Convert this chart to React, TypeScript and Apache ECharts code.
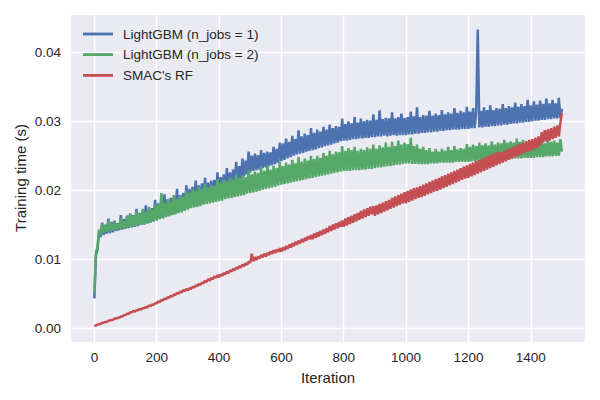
import React, { useEffect, useRef } from "react";
import * as echarts from "echarts";

// Iteration of each sample (every 5th iteration)
const iterations = [
  0, 5, 10, 15, 20, 25, 30, 35, 40, 45, 50, 55, 60, 65, 70, 75, 80, 85, 90, 95,
  100, 105, 110, 115, 120, 125, 130, 135, 140, 145, 150, 155, 160, 165, 170, 175, 180, 185, 190, 195,
  200, 205, 210, 215, 220, 225, 230, 235, 240, 245, 250, 255, 260, 265, 270, 275, 280, 285, 290, 295,
  300, 305, 310, 315, 320, 325, 330, 335, 340, 345, 350, 355, 360, 365, 370, 375, 380, 385, 390, 395,
  400, 405, 410, 415, 420, 425, 430, 435, 440, 445, 450, 455, 460, 465, 470, 475, 480, 485, 490, 495,
  500, 505, 510, 515, 520, 525, 530, 535, 540, 545, 550, 555, 560, 565, 570, 575, 580, 585, 590, 595,
  600, 605, 610, 615, 620, 625, 630, 635, 640, 645, 650, 655, 660, 665, 670, 675, 680, 685, 690, 695,
  700, 705, 710, 715, 720, 725, 730, 735, 740, 745, 750, 755, 760, 765, 770, 775, 780, 785, 790, 795,
  800, 805, 810, 815, 820, 825, 830, 835, 840, 845, 850, 855, 860, 865, 870, 875, 880, 885, 890, 895,
  900, 905, 910, 915, 920, 925, 930, 935, 940, 945, 950, 955, 960, 965, 970, 975, 980, 985, 990, 995,
  1000, 1005, 1010, 1015, 1020, 1025, 1030, 1035, 1040, 1045, 1050, 1055, 1060, 1065, 1070, 1075, 1080, 1085, 1090, 1095,
  1100, 1105, 1110, 1115, 1120, 1125, 1130, 1135, 1140, 1145, 1150, 1155, 1160, 1165, 1170, 1175, 1180, 1185, 1190, 1195,
  1200, 1205, 1210, 1215, 1220, 1225, 1230, 1235, 1240, 1245, 1250, 1255, 1260, 1265, 1270, 1275, 1280, 1285, 1290, 1295,
  1300, 1305, 1310, 1315, 1320, 1325, 1330, 1335, 1340, 1345, 1350, 1355, 1360, 1365, 1370, 1375, 1380, 1385, 1390, 1395,
  1400, 1405, 1410, 1415, 1420, 1425, 1430, 1435, 1440, 1445, 1450, 1455, 1460, 1465, 1470, 1475, 1480, 1485, 1490, 1495,
  1500,
];

// Training times in milliseconds
const lightgbm1Ms = [
  4.3, 10.6, 11.4, 14.0, 13.2, 15.3, 13.5, 15.0, 13.7, 15.9, 13.8, 15.4, 13.9, 15.6, 14.1, 15.2, 14.2, 16.4, 14.3, 15.8,
  14.4, 16.3, 14.5, 16.6, 14.6, 16.4, 14.7, 17.3, 14.8, 16.7, 15.0, 16.9, 15.0, 17.8, 15.2, 17.1, 15.3, 17.4, 15.5, 18.6,
  15.7, 18.1, 15.9, 18.4, 16.0, 19.4, 16.2, 18.6, 16.3, 18.9, 16.5, 19.0, 16.6, 20.2, 16.8, 19.3, 16.9, 19.6, 17.1, 20.7,
  17.3, 20.2, 17.5, 20.5, 17.7, 21.4, 17.8, 20.7, 18.0, 21.0, 18.2, 21.8, 18.3, 21.1, 18.5, 21.4, 18.7, 21.5, 18.9, 22.6,
  19.1, 21.9, 19.4, 22.3, 19.7, 23.2, 20.1, 22.6, 20.4, 23.0, 20.8, 24.1, 21.2, 23.5, 21.6, 24.6, 22.0, 24.3, 22.3, 25.6,
  22.6, 25.0, 22.8, 25.3, 22.9, 25.1, 23.0, 25.8, 23.2, 25.4, 23.3, 25.6, 23.5, 25.5, 23.6, 26.3, 23.8, 26.0, 24.0, 26.9,
  24.2, 26.8, 24.4, 27.5, 24.6, 27.0, 24.8, 27.9, 25.0, 27.4, 25.2, 28.7, 25.3, 27.8, 25.4, 28.2, 25.6, 28.0, 25.7, 29.0,
  25.8, 28.3, 25.9, 28.8, 26.1, 28.5, 26.2, 29.2, 26.4, 28.8, 26.5, 29.5, 26.6, 29.0, 26.8, 29.3, 26.9, 29.2, 27.1, 30.4,
  27.2, 29.6, 27.2, 30.0, 27.3, 29.7, 27.4, 30.6, 27.4, 29.8, 27.5, 30.4, 27.5, 30.0, 27.6, 30.2, 27.6, 30.1, 27.7, 31.0,
  27.7, 30.2, 27.8, 31.6, 27.8, 30.3, 27.9, 30.5, 27.8, 30.4, 27.9, 31.3, 28.0, 30.4, 27.9, 30.6, 28.0, 31.1, 28.0, 30.5,
  28.0, 30.6, 28.1, 31.4, 28.1, 30.7, 28.2, 32.0, 28.2, 30.6, 28.3, 30.9, 28.3, 30.8, 28.4, 31.5, 28.4, 30.8, 28.5, 31.1,
  28.5, 30.9, 28.6, 31.6, 28.6, 31.0, 28.7, 31.3, 28.7, 31.1, 28.8, 31.9, 28.8, 31.2, 28.8, 31.5, 28.9, 31.3, 28.9, 32.1,
  28.9, 31.4, 29.0, 31.9, 29.0, 31.4, 43.3, 29.1, 31.5, 29.1, 32.0, 29.2, 31.6, 29.2, 32.3, 29.3, 31.6, 29.3, 31.9, 29.4,
  31.8, 29.4, 32.5, 29.5, 31.9, 29.5, 32.2, 29.6, 32.0, 29.7, 32.7, 29.7, 32.1, 29.8, 32.5, 29.8, 32.2, 29.9, 33.1, 29.9,
  32.3, 30.0, 32.9, 30.1, 32.4, 30.1, 33.0, 30.2, 32.5, 30.2, 33.3, 30.3, 32.6, 30.3, 33.1, 30.4, 32.6, 30.4, 33.4, 30.5,
  31.8,
];

const lightgbm2Ms = [
  5.0, 11.0, 11.8, 14.3, 13.6, 15.1, 13.8, 14.9, 14.0, 15.6, 14.1, 15.2, 14.2, 15.4, 14.3, 15.1, 14.4, 16.0, 14.5, 15.5,
  14.5, 16.2, 14.6, 16.6, 14.7, 16.3, 14.8, 16.9, 14.9, 16.6, 15.0, 17.3, 15.1, 16.9, 15.2, 17.6, 15.3, 17.2, 15.5, 17.9,
  15.6, 17.9, 15.8, 19.6, 15.9, 18.1, 16.1, 18.7, 16.2, 18.4, 16.4, 19.3, 16.5, 18.7, 16.7, 19.2, 16.8, 19.0, 17.0, 19.9,
  17.2, 19.7, 17.4, 20.2, 17.5, 19.9, 17.6, 20.5, 17.7, 20.2, 17.9, 20.9, 18.0, 20.4, 18.1, 20.7, 18.2, 20.6, 18.3, 21.6,
  18.4, 21.1, 18.5, 21.5, 18.7, 21.3, 18.8, 21.8, 18.9, 21.5, 19.0, 22.3, 19.1, 21.7, 19.2, 22.2, 19.3, 21.9, 19.5, 22.9,
  19.6, 22.3, 19.7, 22.7, 19.8, 22.5, 19.9, 23.3, 20.1, 22.8, 20.2, 23.6, 20.3, 23.0, 20.4, 23.5, 20.5, 23.2, 20.7, 24.1,
  20.8, 23.5, 20.9, 24.0, 21.0, 23.7, 21.1, 24.4, 21.2, 23.9, 21.3, 24.8, 21.4, 24.1, 21.5, 24.6, 21.6, 24.3, 21.7, 25.0,
  21.8, 24.5, 21.9, 25.0, 22.0, 24.7, 22.1, 25.4, 22.2, 25.0, 22.3, 25.7, 22.4, 25.2, 22.5, 25.6, 22.6, 25.5, 22.7, 26.4,
  22.8, 25.7, 22.8, 26.1, 22.8, 25.8, 22.9, 26.3, 22.9, 25.7, 22.9, 26.0, 23.0, 25.8, 23.0, 26.2, 23.1, 26.0, 23.1, 26.6,
  23.2, 26.0, 23.3, 26.5, 23.3, 26.2, 23.4, 26.9, 23.5, 26.3, 23.5, 27.0, 23.6, 26.4, 23.7, 27.2, 23.7, 26.6, 23.8, 26.9,
  23.9, 26.7, 23.9, 27.6, 23.8, 26.4, 23.8, 26.6, 23.8, 26.0, 23.8, 26.3, 23.8, 25.8, 23.8, 26.1, 23.9, 25.6, 23.9, 26.0,
  23.9, 25.6, 24.0, 26.0, 24.0, 25.7, 24.0, 26.3, 24.0, 25.8, 24.0, 26.4, 24.1, 25.9, 24.1, 26.1, 24.1, 26.0, 24.1, 26.7,
  24.1, 26.3, 24.2, 26.6, 24.2, 26.4, 24.2, 26.9, 24.3, 26.5, 24.3, 26.8, 24.3, 26.5, 24.3, 27.1, 24.4, 26.6, 24.4, 26.9,
  24.4, 26.8, 24.5, 27.3, 24.5, 26.9, 24.5, 27.1, 24.6, 26.9, 24.6, 27.5, 24.6, 27.0, 24.6, 27.3, 24.7, 26.9, 24.7, 27.1,
  24.7, 26.9, 24.7, 27.3, 24.8, 26.9, 24.8, 27.1, 24.8, 26.8, 24.9, 27.3, 24.9, 27.0, 24.9, 27.2, 25.0, 26.9, 25.0, 27.4,
  25.6,
];

const smacRfMs = [
  0.3, 0.4, 0.5, 0.6, 0.6, 0.8, 0.8, 0.9, 0.9, 1.1, 1.1, 1.2, 1.2, 1.4, 1.4, 1.5, 1.5, 1.7, 1.7, 1.9,
  1.9, 2.1, 2.1, 2.3, 2.3, 2.5, 2.4, 2.6, 2.6, 2.8, 2.7, 2.9, 2.9, 3.1, 3.0, 3.3, 3.2, 3.4, 3.4, 3.6,
  3.6, 3.9, 3.8, 4.1, 4.0, 4.3, 4.2, 4.5, 4.4, 4.7, 4.6, 4.9, 4.8, 5.1, 5.0, 5.3, 5.2, 5.5, 5.4, 5.7,
  5.5, 5.8, 5.7, 6.0, 5.9, 6.2, 6.1, 6.4, 6.3, 6.6, 6.5, 6.9, 6.7, 7.1, 6.9, 7.3, 7.1, 7.5, 7.3, 7.7,
  7.4, 7.8, 7.6, 8.0, 7.8, 8.2, 8.0, 8.4, 8.2, 8.6, 8.4, 8.8, 8.6, 9.0, 8.8, 9.2, 9.0, 9.4, 9.2, 9.6,
  9.5, 10.8, 9.7, 10.3, 9.9, 10.4, 10.1, 10.6, 10.3, 10.8, 10.4, 10.9, 10.6, 11.1, 10.8, 11.3, 10.9, 11.4, 11.1, 11.6,
  11.1, 11.7, 11.3, 11.9, 11.5, 12.1, 11.7, 12.3, 11.9, 12.5, 12.1, 12.7, 12.3, 12.9, 12.5, 13.1, 12.7, 13.3, 12.9, 13.5,
  12.9, 13.7, 13.1, 13.9, 13.3, 14.1, 13.5, 14.3, 13.7, 14.5, 13.9, 14.8, 14.1, 15.0, 14.3, 15.2, 14.5, 15.4, 14.7, 15.6,
  14.7, 15.9, 14.9, 16.1, 15.1, 16.3, 15.3, 16.5, 15.5, 16.7, 15.7, 17.0, 15.9, 17.2, 16.1, 17.4, 16.3, 17.6, 16.5, 17.7,
  16.3, 17.8, 16.5, 18.0, 16.7, 18.2, 16.9, 18.4, 17.1, 18.6, 17.3, 18.9, 17.5, 19.1, 17.7, 19.3, 17.9, 19.5, 18.1, 19.7,
  18.1, 19.9, 18.3, 20.1, 18.5, 20.3, 18.7, 20.4, 18.9, 20.6, 19.0, 20.8, 19.2, 21.0, 19.4, 21.2, 19.6, 21.4, 19.8, 21.6,
  19.9, 21.8, 20.1, 22.0, 20.3, 22.2, 20.5, 22.4, 20.7, 22.6, 20.9, 22.8, 21.1, 23.0, 21.3, 23.2, 21.5, 23.4, 21.7, 23.6,
  21.8, 23.8, 22.0, 24.0, 22.2, 24.2, 22.4, 24.4, 22.6, 24.6, 22.8, 24.8, 23.0, 25.0, 23.2, 25.2, 23.4, 25.4, 23.6, 25.6,
  23.8, 25.5, 24.0, 25.7, 24.2, 25.9, 24.4, 26.1, 24.6, 26.3, 24.8, 26.5, 25.0, 26.7, 25.2, 26.9, 25.4, 27.1, 25.6, 27.3,
  25.7, 27.4, 25.9, 27.6, 26.1, 27.8, 26.5, 28.4, 26.9, 28.7, 27.1, 28.8, 27.2, 29.0, 27.4, 29.2, 27.6, 29.4, 27.8, 29.8,
  31.2,
];

const seriesNames = ["LightGBM (n_jobs = 1)", "LightGBM (n_jobs = 2)", "SMAC's RF"];
const seriesColors = ["#4C72B0", "#55A868", "#C44E52"];
const xTicks = [0, 200, 400, 600, 800, 1000, 1200, 1400];
const yTicks = [0, 0.01, 0.02, 0.03, 0.04];

const FONT = "'Liberation Sans', Arial, sans-serif";
const TEXT = "#262626";

function toPairs(ms: number[]) {
  return ms.map((v, i) => [iterations[i], v / 1000]);
}

export default function App() {
  const ref = useRef<HTMLDivElement>(null);

  useEffect(() => {
    if (!ref.current) return;
    const chart = echarts.init(ref.current, null, { renderer: "svg" });
    const all = [lightgbm1Ms, lightgbm2Ms, smacRfMs];
    const widths = [2.5, 2.5, 2.5];
    const legendRows = [34, 54.6, 75.4];

    const legendGraphics: any[] = [];
    seriesNames.forEach((name, k) => {
      legendGraphics.push({
        type: "line",
        z: 100,
        shape: { x1: 83, y1: legendRows[k], x2: 113, y2: legendRows[k] },
        style: { stroke: seriesColors[k], lineWidth: 2.8 },
      });
      legendGraphics.push({
        type: "text",
        z: 100,
        x: 123,
        y: legendRows[k],
        style: {
          text: name,
          fontSize: 13.5,
          fill: TEXT,
          fontFamily: FONT,
          align: "left",
          verticalAlign: "middle",
        },
      });
    });

    chart.setOption({
      animation: false,
      backgroundColor: "#ffffff",
      textStyle: { fontFamily: FONT },
      grid: {
        left: 71,
        right: 15,
        top: 15,
        bottom: 58,
        show: true,
        backgroundColor: "#EAEAF2",
        borderWidth: 0,
      },
      xAxis: {
        type: "value",
        min: -75,
        max: 1574,
        axisLine: { show: false },
        axisTick: { show: false, customValues: xTicks },
        axisLabel: {
          customValues: xTicks,
          margin: 8,
          fontSize: 13.5,
          color: TEXT,
          fontFamily: FONT,
          formatter: (v: number) => String(v),
        },
        splitLine: { show: true, lineStyle: { color: "#ffffff", width: 1.4 } },
      },
      yAxis: {
        type: "value",
        min: -0.002,
        max: 0.0454,
        axisLine: { show: false },
        axisTick: { show: false, customValues: yTicks },
        axisLabel: {
          customValues: yTicks,
          margin: 10,
          fontSize: 13.5,
          color: TEXT,
          fontFamily: FONT,
          formatter: (v: number) => v.toFixed(2),
        },
        splitLine: { show: true, lineStyle: { color: "#ffffff", width: 1.4 } },
      },
      series: seriesNames.map((name, k) => ({
        name,
        type: "line",
        data: toPairs(all[k]),
        symbol: "none",
        color: seriesColors[k],
        lineStyle: { color: seriesColors[k], width: widths[k] },
        z: 2 + k,
      })),
      graphic: [
        ...legendGraphics,
        {
          type: "text",
          z: 100,
          x: 328,
          y: 377,
          style: {
            text: "Iteration",
            fontSize: 15,
            fill: TEXT,
            fontFamily: FONT,
            align: "center",
            verticalAlign: "middle",
          },
        },
        {
          type: "text",
          z: 100,
          x: 20.5,
          y: 178,
          rotation: Math.PI / 2,
          style: {
            text: "Training time (s)",
            fontSize: 15,
            fill: TEXT,
            fontFamily: FONT,
            align: "center",
            verticalAlign: "middle",
          },
        },
      ],
    });
    return () => chart.dispose();
  }, []);

  return (
    <div
      ref={ref}
      style={{ position: "fixed", left: 0, top: 0, width: 600, height: 400 }}
    />
  );
}
